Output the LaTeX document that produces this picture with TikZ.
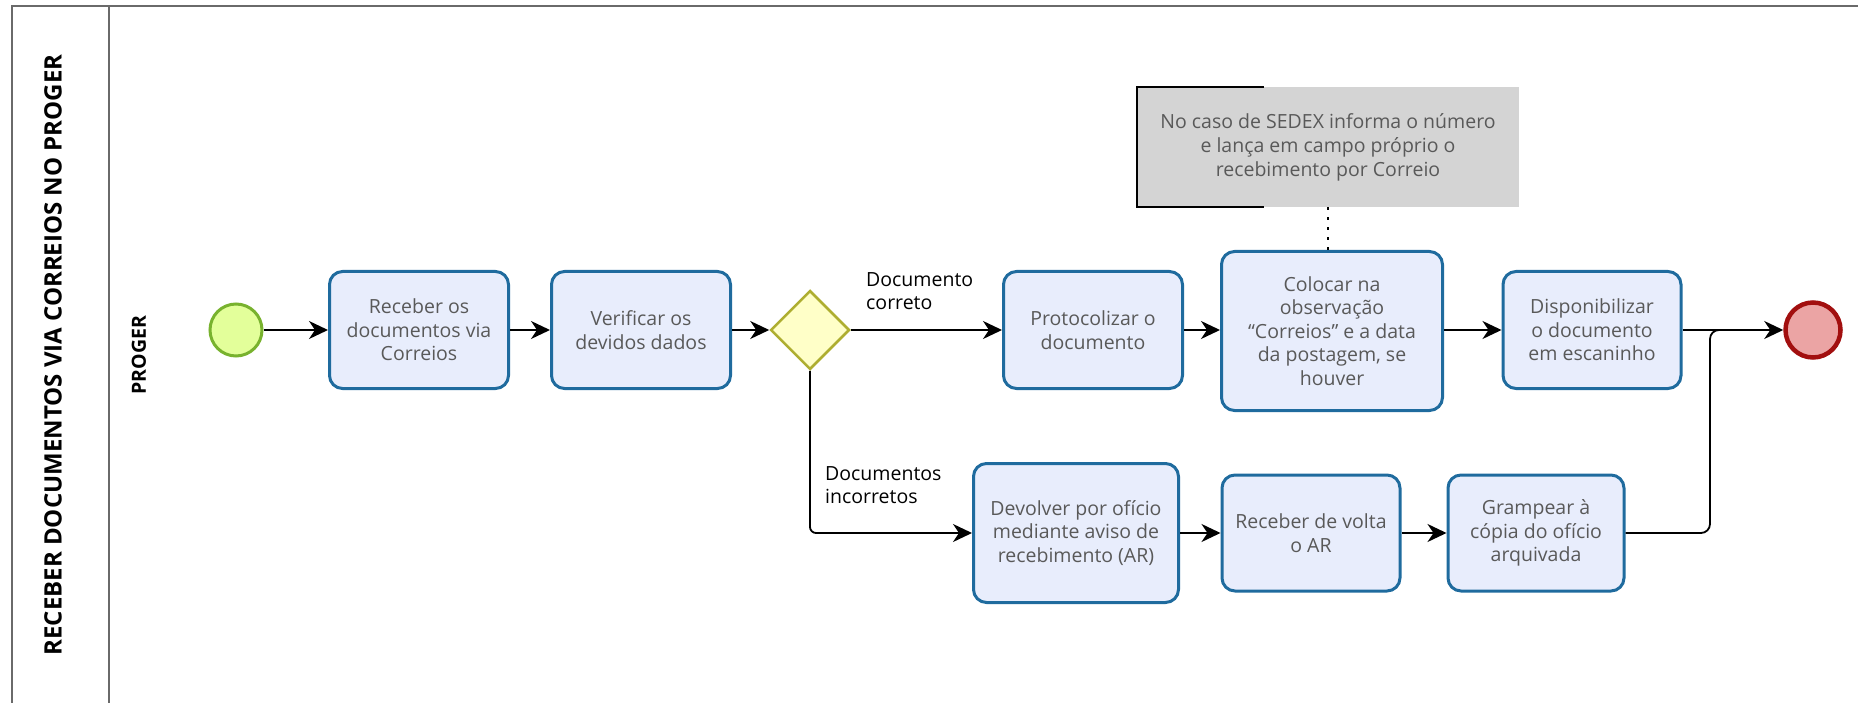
\documentclass[tikz,border=0pt]{standalone}
\usepackage{fontspec}
\setmainfont{Open Sans}
\usetikzlibrary{shapes.geometric,arrows.meta,calc}
\definecolor{taskfill}{HTML}{E8EDFC}
\definecolor{taskdraw}{HTML}{1F6B9E}
\definecolor{tasktext}{HTML}{595959}
\definecolor{startfill}{HTML}{E3FF9A}
\definecolor{startdraw}{HTML}{78B22E}
\definecolor{endfill}{HTML}{EBA4A4}
\definecolor{enddraw}{HTML}{A20F0F}
\definecolor{gwfill}{HTML}{FFFFC8}
\definecolor{gwdraw}{HTML}{AEAE30}
\definecolor{notefill}{HTML}{D4D4D4}
\definecolor{framecol}{HTML}{6A6A6A}
\begin{document}
\begin{tikzpicture}[x=1pt,y=-1pt,
  task/.style={draw=taskdraw, fill=taskfill, line width=3pt, rounded corners=13pt,
    align=center, text=tasktext, font=\fontsize{19.5}{23.5}\selectfont, inner sep=0pt},
  flow/.style={line width=1.8pt, -{Stealth[length=19pt,width=18pt,inset=6pt]}},
  plainflow/.style={line width=1.8pt},
  lbl/.style={align=left, font=\fontsize{19.5}{23.5}\selectfont, inner sep=0pt, anchor=north west},
  framel/.style={draw=framecol, line width=2.2pt}]
\useasboundingbox (0,0) rectangle (1858,703);

% pool frame
\draw[framel] (12,703) -- (12,6) -- (1858,6);
\draw[framel] (109,6) -- (109,703);
\node[rotate=90, font=\bfseries\fontsize{24}{28}\selectfont] (pool) at (53,355) {RECEBER DOCUMENTOS VIA CORREIOS NO PROGER};
\node[rotate=90, font=\bfseries\fontsize{19.5}{22}\selectfont] (lane) at (139,355) {PROGER};

% events and gateway
\node[circle, draw=startdraw, fill=startfill, line width=3pt, minimum size=52pt, inner sep=0pt] (start) at (236,330) {};
\node[circle, draw=enddraw, fill=endfill, line width=4.5pt, minimum size=55pt, inner sep=0pt] (end) at (1813,330) {};
\node[diamond, draw=gwdraw, fill=gwfill, line width=2.5pt, minimum width=79pt, minimum height=79pt, inner sep=0pt] (gw) at (810,330) {};

% tasks
\node[task, minimum width=179pt, minimum height=117pt] (t1) at (419,330) {Receber os\\documentos via\\Correios};
\node[task, minimum width=179pt, minimum height=117pt] (t2) at (641,330) {Verificar os\\devidos dados};
\node[task, minimum width=179pt, minimum height=117pt] (t3) at (1093,330) {Protocolizar o\\documento};
\node[task, minimum width=221pt, minimum height=159pt] (t4) at (1332,331) {Colocar na\\observação\\“Correios” e a data\\da postagem, se\\houver};
\node[task, minimum width=178pt, minimum height=117pt] (t5) at (1592,330) {Disponibilizar\\o documento\\em escaninho};
\node[task, minimum width=205pt, minimum height=139pt] (t6) at (1076,533) {Devolver por ofício\\mediante aviso de\\recebimento (AR)};
\node[task, minimum width=178pt, minimum height=116pt] (t7) at (1311,533) {Receber de volta\\o AR};
\node[task, minimum width=176pt, minimum height=116pt] (t8) at (1536,533) {Grampear à\\cópia do ofício\\arquivada};

% annotation
\node[fill=notefill, minimum width=382pt, minimum height=120pt, inner sep=0pt, align=center,
  text=tasktext, font=\fontsize{19.5}{24}\selectfont] (note) at (1328,147)
  {No caso de SEDEX informa o número\\e lança em campo próprio o\\recebimento por Correio};
\draw[line width=2pt] ($(note.north west)+(127,0)$) -- (note.north west) -- (note.south west) -- ++(127,0);
\draw[line width=2.2pt, dash pattern=on 3pt off 7pt] (note.south) -- (note.south |- t4.north);

% labels
\node[lbl] (lc) at (866,272) {Documento\\correto};
\node[lbl] (li) at (825,466) {Documentos\\incorretos};

% flows
\draw[flow] (start) -- (t1);
\draw[flow] (t1) -- (t2);
\draw[flow] (t2) -- (gw);
\draw[flow] (gw) -- (t3);
\draw[flow] (t3) -- (t4.west |- t3.east);
\draw[flow] (t4.east |- t5.west) -- (t5);
\draw[flow] (t5) -- (end);
\draw[flow, rounded corners=6pt] (gw.south) |- (t6.west);
\draw[flow] (t6.east |- t7.west) -- (t7);
\draw[flow] (t7) -- (t8);
\coordinate (mj) at (1710,330);
\coordinate (mk) at (1724,330);
\draw[plainflow, rounded corners=9pt] (t8.east) -| (mj) -- (mk);
\end{tikzpicture}
\end{document}
